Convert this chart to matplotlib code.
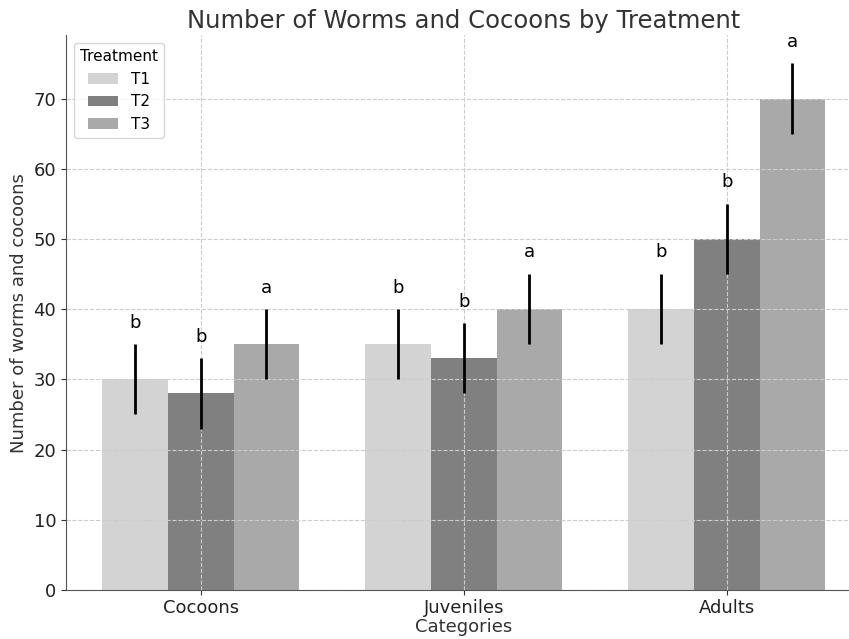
import numpy as np
import matplotlib.pyplot as plt

# data
categories = ['Cocoons', 'Juveniles', 'Adults']
treatments = ['T1', 'T2', 'T3']
t1_vals = [30, 35, 40]
t2_vals = [28, 33, 50]
t3_vals = [35, 40, 70]
t1_err = [5, 5, 5]
t2_err = [5, 5, 5]
t3_err = [5, 5, 5]
t1_letters = ['b', 'b', 'b']
t2_letters = ['b', 'b', 'b']
t3_letters = ['a', 'a', 'a']

colors = ['#d3d3d3', '#808080', '#a9a9a9']
width = 0.25
x = np.arange(len(categories))

fig = plt.figure(figsize=(8.49, 6.39), dpi=100)
ax = fig.add_axes([0.0777, 0.0767, 0.937, 0.868])

series = [(t1_vals, t1_err, t1_letters), (t2_vals, t2_err, t2_letters), (t3_vals, t3_err, t3_letters)]
for i, (vals, errs, letters) in enumerate(series):
    pos = x + (i - 1) * width
    ax.bar(pos, vals, width, yerr=errs, color=colors[i], label=treatments[i],
           error_kw=dict(ecolor='black', elinewidth=2, capsize=0))
    for p, v, e, l in zip(pos, vals, errs, letters):
        ax.text(p, v + e + 1.8, l, ha='center', va='bottom', fontsize=13)

ax.set_xticks(x)
ax.set_xticklabels(categories, fontsize=13)
ax.tick_params(axis='y', labelsize=13)
ax.tick_params(axis='x', pad=3)
ax.tick_params(colors='#333333', labelcolor='#222222')
ax.set_xlim(-0.5125, 2.5125)
ax.set_ylim(0, 79)
ax.set_xlabel('Categories', fontsize=13, color='#333333', labelpad=1)
ax.set_ylabel('Number of worms and cocoons', fontsize=13, color='#333333')
ax.set_title('Number of Worms and Cocoons by Treatment', fontsize=17.5, color='#333333', pad=5)
ax.grid(True, linestyle='--', color='#cccccc', linewidth=0.8)
for s in ['top', 'right']:
    ax.spines[s].set_visible(False)
for s in ['left', 'bottom']:
    ax.spines[s].set_color('#555555')
ax.legend(title='Treatment', loc='upper left', fontsize=11, title_fontsize=11)

plt.savefig('out.png', dpi=100)
